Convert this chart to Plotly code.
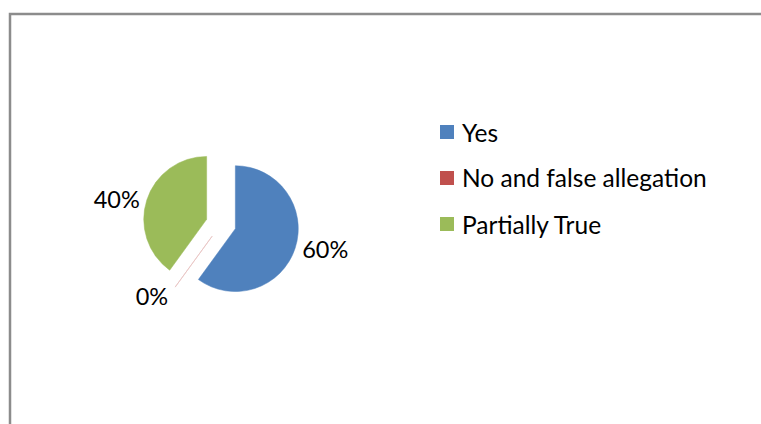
import plotly.graph_objects as go

# Survey answers and their shares
labels = ["Yes", "No and false allegation", "Partially True"]
values = [60, 0, 40]
colors = ["#4F81BD", "#C0504D", "#9BBB59"]

W, H = 761, 424
FONT = "Lato"
FSIZE = 24.5

fig = go.Figure()

fig.add_trace(go.Pie(
    labels=labels,
    values=values,
    sort=False,
    direction="clockwise",
    rotation=0,
    pull=[0.24, 0.24, 0.24],
    marker=dict(colors=colors,
                line=dict(color=["#4F81BD", "#E8C4C3", "#9BBB59"], width=[0.5, 0.8, 0.5])),
    textinfo="percent",
    texttemplate="%{percent:.0%}",
    textposition="outside",
    textfont=dict(family=FONT, size=FSIZE - 1, color="#000000"),
    domain=dict(x=[143 / W, 299 / W], y=[1 - 302 / H, 1 - 146 / H]),
    showlegend=False,
    hoverinfo="label+percent",
))

# Legend: colour swatch plus label for each answer
leg_x0 = 440
leg_y0 = 132
leg_step = 46
sw = 14
shapes = []
annotations = []
for i, (lab, col) in enumerate(zip(labels, colors)):
    yc = leg_y0 + i * leg_step
    shapes.append(dict(
        type="rect", xref="paper", yref="paper",
        x0=leg_x0 / W, x1=(leg_x0 + sw) / W,
        y0=1 - (yc + sw / 2) / H, y1=1 - (yc - sw / 2) / H,
        fillcolor=col, line=dict(width=0),
    ))
    annotations.append(dict(
        text=lab, xref="paper", yref="paper",
        x=(leg_x0 + sw + 6) / W, y=1 - yc / H,
        xanchor="left", yanchor="middle", showarrow=False,
        font=dict(family=FONT, size=FSIZE, color="#000000"),
    ))

# Chart frame (top and left edges)
shapes.append(dict(
    type="path", xref="paper", yref="paper",
    path=f"M {10 / W} 0 L {10 / W} {1 - 14 / H} L 1 {1 - 14 / H}",
    line=dict(color="#8C8C8C", width=2.5),
))

fig.update_layout(
    width=W, height=H,
    margin=dict(l=0, r=0, t=0, b=0),
    paper_bgcolor="#FFFFFF",
    plot_bgcolor="#FFFFFF",
    shapes=shapes,
    annotations=annotations,
    font=dict(family=FONT),
)

fig.write_html("out.html")
